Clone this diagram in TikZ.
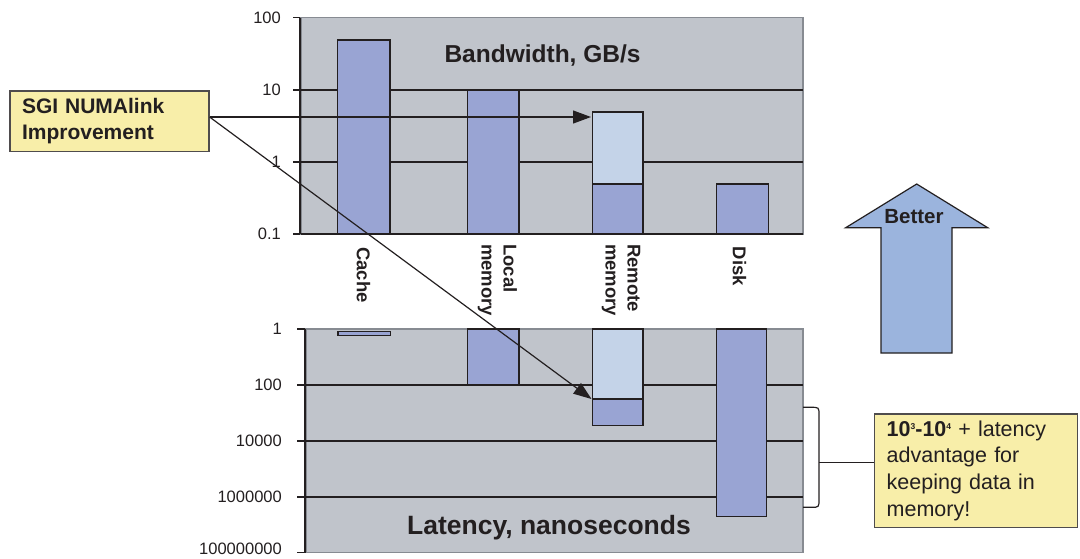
\documentclass[tikz,border=0pt]{standalone}
\usepackage{fontspec}
\setmainfont{Liberation Sans}
\usetikzlibrary{arrows.meta}
\definecolor{plotbg}{HTML}{C0C4CB}
\definecolor{plotedge}{HTML}{878B92}
\definecolor{bardark}{HTML}{99A4D3}
\definecolor{barlight}{HTML}{C4D3E8}
\definecolor{betterblue}{HTML}{9BB4DD}
\definecolor{noteyellow}{HTML}{F8EEA9}
\definecolor{ink}{HTML}{231F20}
\newcommand{\tinysup}[1]{\raisebox{0.33em}{\fontsize{8.5}{8.5}\selectfont #1}}
\begin{document}
\begin{tikzpicture}[x=1pt,y=-1pt,
  plotarea/.style={fill=plotbg,draw=plotedge,line width=1.2pt},
  grid/.style={draw=ink,line width=1.3pt},
  axisline/.style={draw=ink,line width=1.8pt},
  bardk/.style={fill=bardark,draw=ink,line width=1.2pt},
  barlt/.style={fill=barlight,draw=ink,line width=1.2pt},
  ticklab/.style={anchor=east,inner sep=0pt,text=ink,font=\fontsize{16.5}{18}\selectfont},
  catlab/.style={rotate=-90,anchor=west,inner sep=0pt,align=left,text=ink,font=\fontsize{18.5}{22}\selectfont\bfseries},
  title/.style={anchor=base,inner sep=0pt,text=ink,font=\fontsize{24.5}{28}\selectfont\bfseries},
  note/.style={fill=noteyellow,draw=ink!80,line width=1.2pt,align=left,text=ink,inner xsep=12pt},
  pointer/.style={draw=ink,line width=1.2pt,-{Triangle[length=18pt,width=13pt]}}
]
\useasboundingbox (0,0) rectangle (1080,558);

% ---------- Bandwidth chart ----------
\path[plotarea] (301,17.5) rectangle (803,234);
\draw[grid] (301,90) -- (803,90);
\draw[grid] (301,162) -- (803,162);
\draw[axisline] (301,234) -- (803,234);
\path[bardk] (337.7,40) rectangle (390,234);
\path[bardk] (467.7,90) rectangle (519,234);
\path[barlt] (592.7,112) rectangle (643,184);
\path[bardk] (592.7,184) rectangle (643,234);
\path[bardk] (716.7,184) rectangle (768.7,234);
\draw[axisline] (300,17.5) -- (300,234);
\foreach \y/\t in {17.5/100,90/10,162/1,234/0.1}{
  \draw[axisline] (293,\y) -- (300,\y);
  \node[ticklab] at (281,\y) {\t};
}
\node[title] (bwtitle) at (542.5,62.5) {Bandwidth, GB/s};

% ---------- category labels ----------
\node[catlab] (lcache) at (363.5,247) {Cache};
\node[catlab] (llocal) at (497.5,244) {Local\\memory};
\node[catlab] (lremote) at (621,244) {Remote\\memory};
\node[catlab] (ldisk) at (739.5,246.5) {Disk};

% ---------- Latency chart ----------
\path[plotarea] (306,329) rectangle (803,552.5);
\draw[grid] (306,385) -- (803,385);
\draw[grid] (306,441) -- (803,441);
\draw[grid] (306,497) -- (803,497);
\path[bardk] (338,331.7) rectangle (390.7,335.7);
\path[bardk] (467.7,329) rectangle (519,385);
\path[barlt] (592.7,329) rectangle (643,399);
\path[bardk] (592.7,399) rectangle (643,425.7);
\path[bardk] (716.7,329) rectangle (766.7,516.7);
\draw[axisline] (305,329) -- (305,552.5);
\foreach \y/\ly/\t in {329/329/1,385/385/100,441/441/10000,497/497/1000000,552.5/549/100000000}{
  \draw[axisline] (297,\y) -- (305,\y);
  \node[ticklab] at (282,\ly) {\t};
}
\node[title,font=\fontsize{26.5}{30}\selectfont\bfseries] (lattitle) at (549,534) {Latency, nanoseconds};

% ---------- Better arrow ----------
\path[fill=betterblue,draw=ink,line width=1.2pt,line join=miter]
  (916.7,184) -- (987.7,227.7) -- (952,227.7) -- (952,353) -- (881,353)
  -- (881,227.7) -- (845.7,227.7) -- cycle;
\node[text=ink,font=\fontsize{20.5}{24}\selectfont\bfseries] (better) at (914,217) {Better};

% ---------- notes ----------
\node[note,text width=175pt,minimum height=60.7pt,font=\fontsize{21}{25.7}\selectfont\bfseries]
  (box1) at (109.5,121.3) {SGI NUMAlink\\Improvement};
\node[note,text width=179pt,minimum height=113.3pt,font=\fontsize{21.5}{26.7}\selectfont]
  (box2) at (976.2,470.7)
  {\textbf{10\tinysup{3}-10\tinysup{4}} + latency\\advantage for\\keeping data in\\memory!};

% ---------- connectors ----------
\coordinate (bwtip) at (591,117);
\coordinate (lattip) at (591.5,399);
\draw[pointer] (box1.east |- bwtip) -- (bwtip);
\draw[pointer] (box1.east |- bwtip) -- (lattip);

\coordinate (bracetop) at (803,407.3);
\coordinate (bracebot) at (803,507.3);
\coordinate (bracemid) at (819,462.3);
\draw[ink,line width=1.2pt]
  (bracetop) -- (811,407.3) .. controls (819,407.3) and (819,407.3) .. (819,415)
  -- (819,499.5) .. controls (819,507.3) and (819,507.3) .. (811,507.3) -- (bracebot);
\draw[ink,line width=1.2pt] (bracemid) -- (box2.west |- bracemid);
\end{tikzpicture}
\end{document}
